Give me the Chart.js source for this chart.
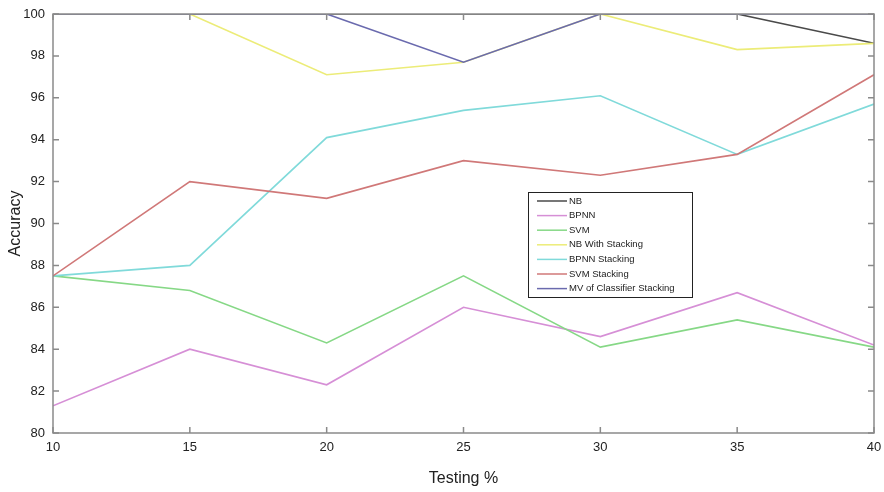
<!DOCTYPE html>
<html>
<head>
<meta charset="utf-8">
<script src="https://cdn.jsdelivr.net/npm/chart.js@4.4.1/dist/chart.umd.min.js"></script>
<style>
    html, body { margin: 0; padding: 0; background: #fff; }
    #wrap { width: 884px; height: 492px; }
</style>
</head>
<body>
<div id="wrap"><canvas id="chart" width="884" height="492"></canvas></div>
<script>
const testing = [10, 15, 20, 25, 30, 35, 40]
const yTicks = [80, 82, 84, 86, 88, 90, 92, 94, 96, 98, 100]

const nb = [100, 100, 100, 100, 100, 100, 98.6]
const bpnn = [81.3, 84.0, 82.3, 86.0, 84.6, 86.7, 84.2]
const svm = [87.5, 86.8, 84.3, 87.5, 84.1, 85.4, 84.1]
const nbStacking = [100, 100, 97.1, 97.7, 100, 98.3, 98.6]
const bpnnStacking = [87.5, 88.0, 94.1, 95.4, 96.1, 93.3, 95.7]
const svmStacking = [87.5, 92.0, 91.2, 93.0, 92.3, 93.3, 97.1]
const mvStacking = [100, 100, 100, 97.7, 100, 100, 100]

const series = [
    { label: 'NB', data: nb, color: '#4a4a4a' },
    { label: 'BPNN', data: bpnn, color: '#d68fd6' },
    { label: 'SVM', data: svm, color: '#86d886' },
    { label: 'NB With Stacking', data: nbStacking, color: '#ecec78' },
    { label: 'BPNN Stacking', data: bpnnStacking, color: '#80dada' },
    { label: 'SVM Stacking', data: svmStacking, color: '#d07878' },
    { label: 'MV of Classifier Stacking', data: mvStacking, color: '#6a6aae' }
]

// box around the plot with inward ticks, matlab style
const boxPlugin = {
    id: 'box',
    afterDatasetsDraw(chart) {
        const { ctx, chartArea: a, scales } = chart
        ctx.save()
        ctx.strokeStyle = '#8a8a8a'
        ctx.lineWidth = 1.5
        ctx.strokeRect(a.left, a.top, a.right - a.left, a.bottom - a.top)
        ctx.beginPath()
        const t = 6
        scales.x.ticks.forEach(tk => {
            const px = scales.x.getPixelForValue(tk.value)
            ctx.moveTo(px, a.bottom); ctx.lineTo(px, a.bottom - t)
            ctx.moveTo(px, a.top); ctx.lineTo(px, a.top + t)
        })
        scales.y.ticks.forEach(tk => {
            const py = scales.y.getPixelForValue(tk.value)
            ctx.moveTo(a.left, py); ctx.lineTo(a.left + t, py)
            ctx.moveTo(a.right, py); ctx.lineTo(a.right - t, py)
        })
        ctx.stroke()
        ctx.restore()
    }
}

const legendPlugin = {
    id: 'boxLegend',
    afterDraw(chart) {
        const { ctx } = chart
        const x = 528, y = 192, w = 164, h = 105
        ctx.save()
        ctx.fillStyle = '#fff'
        ctx.fillRect(x, y, w, h)
        ctx.strokeStyle = '#222'
        ctx.lineWidth = 1
        ctx.strokeRect(x + 0.5, y + 0.5, w, h)
        ctx.font = '9.5px "Liberation Sans", Arial, sans-serif'
        ctx.textBaseline = 'middle'
        chart.data.datasets.forEach((ds, i) => {
            const ly = y + 9 + i * 14.6
            ctx.strokeStyle = ds.borderColor
            ctx.lineWidth = 1.5
            ctx.beginPath()
            ctx.moveTo(x + 9, ly)
            ctx.lineTo(x + 39, ly)
            ctx.stroke()
            ctx.fillStyle = '#222'
            ctx.fillText(ds.label, x + 41, ly)
        })
        ctx.restore()
    }
}

new Chart(document.getElementById('chart'), {
    type: 'line',
    data: {
        datasets: series.map((s, i) => ({
            label: s.label,
            data: s.data.map((v, j) => ({ x: testing[j], y: v })),
            borderColor: s.color,
            backgroundColor: s.color,
            borderWidth: 1.6,
            pointRadius: 0,
            tension: 0,
            fill: false,
            order: series.length - i
        }))
    },
    options: {
        responsive: false,
        animation: false,
        layout: { padding: { top: 14, right: 10, left: 0, bottom: 0 } },
        plugins: {
            legend: { display: false },
            tooltip: { enabled: false }
        },
        scales: {
            x: {
                type: 'linear',
                min: 10,
                max: 40,
                afterFit: s => {
                    s.height = 59
                    s.paddingLeft = 0
                    s.paddingRight = 0
                },
                afterBuildTicks: s => { s.ticks = testing.map(v => ({ value: v })) },
                grid: { display: false, drawTicks: false },
                border: { display: false },
                ticks: {
                    padding: 7,
                    color: '#222',
                    font: { family: '"Liberation Sans", Arial, sans-serif', size: 13 }
                },
                title: {
                    display: true,
                    text: 'Testing %',
                    color: '#222',
                    padding: { top: 4, bottom: 4 },
                    font: { family: '"Liberation Sans", Arial, sans-serif', size: 16 }
                }
            },
            y: {
                min: 80,
                max: 100,
                afterFit: s => {
                    s.width = 53
                    s.paddingTop = 0
                    s.paddingBottom = 0
                },
                afterBuildTicks: s => { s.ticks = yTicks.map(v => ({ value: v })) },
                grid: { display: false, drawTicks: false },
                border: { display: false },
                ticks: {
                    padding: 8,
                    color: '#222',
                    font: { family: '"Liberation Sans", Arial, sans-serif', size: 13 }
                },
                title: {
                    display: true,
                    text: 'Accuracy',
                    color: '#222',
                    padding: { top: 6, bottom: 0 },
                    font: { family: '"Liberation Sans", Arial, sans-serif', size: 16 }
                }
            }
        }
    },
    plugins: [boxPlugin, legendPlugin]
})
</script>
</body>
</html>
